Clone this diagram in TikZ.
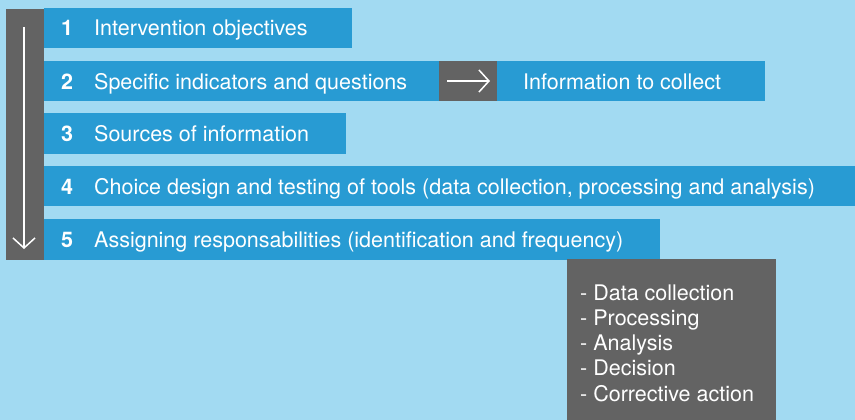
\documentclass[tikz,border=0pt]{standalone}
\usepackage{fontspec}
\setmainfont{TeX Gyre Heros}
\usetikzlibrary{arrows.meta}
\definecolor{bgblue}{HTML}{A2DAF2}
\definecolor{barblue}{HTML}{289BD3}
\definecolor{darkgray}{HTML}{636363}
\tikzset{
  bar/.style={fill=barblue, draw=none, anchor=north west, inner sep=0pt},
  graybox/.style={fill=darkgray, draw=none, anchor=north west, inner sep=0pt},
  num/.style={text=white, font=\fontsize{21.5}{25}\selectfont\bfseries, anchor=base, inner sep=0pt},
  label/.style={text=white, font=\fontsize{21.5}{25}\selectfont, anchor=base west, inner sep=0pt},
  warrow/.style={draw=white, line width=1.5pt, -{Straight Barb[length=10pt,width=22pt,line width=1.5pt]}}
}
\begin{document}
\begin{tikzpicture}[x=1pt,y=-1pt]
\fill[bgblue] (0,0) rectangle (855,420);
\useasboundingbox (0,0) rectangle (855,420);
% vertical gray column
\node[graybox, minimum width=38pt, minimum height=251pt] (col) at (6,9) {};
% bars
\node[bar, minimum width=308pt, minimum height=40pt] (b1) at (44,8) {};
\node[bar, minimum width=395pt, minimum height=40pt] (b2) at (44,61) {};
\node[graybox, minimum width=58pt, minimum height=40pt] (g2) at (439,61) {};
\node[bar, minimum width=268pt, minimum height=40pt] (i2) at (497,61) {};
\node[bar, minimum width=302pt, minimum height=41pt] (b3) at (44,113) {};
\node[bar, minimum width=811pt, minimum height=40pt] (b4) at (44,166) {};
\node[bar, minimum width=616pt, minimum height=41pt] (b5) at (44,219) {};
\node[graybox, minimum width=209pt, minimum height=161pt] (list) at (567,259) {};
% numbers and labels
\node[num] (n1) at (67,36) {1};
\node[label] (t1) at (94,36) {Intervention objectives};
\node[num] (n2) at (67,89) {2};
\node[label] (t2) at (94,89) {Specific indicators and questions};
\node[label] (t2b) at (523,89) {Information to collect};
\node[num] (n3) at (67,141) {3};
\node[label] (t3) at (94,141) {Sources of information};
\node[num] (n4) at (67,194) {4};
\node[label] (t4) at (94,194) {Choice design and testing of tools (data collection, processing and analysis)};
\node[num] (n5) at (67,247) {5};
\node[label] (t5) at (94,247) {Assigning responsabilities (identification and frequency)};
% list in the gray box
\node[label] (l1) at (580,300) {- Data collection};
\node[label] (l2) at (580,325.3) {- Processing};
\node[label] (l3) at (580,350.6) {- Analysis};
\node[label] (l4) at (580,375.9) {- Decision};
\node[label] (l5) at (580,401.2) {- Corrective action};
% arrows
\coordinate (a1s) at (24,27);
\coordinate (a1e) at (24,249);
\draw[warrow] (a1s) -- (a1e);
\coordinate (a2s) at (447,81);
\coordinate (a2e) at (490,81);
\draw[warrow] (a2s) -- (a2e);
\end{tikzpicture}
\end{document}
